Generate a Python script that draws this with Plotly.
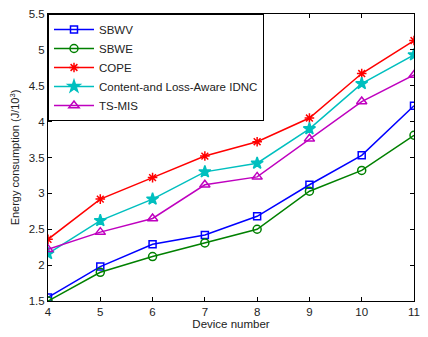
import plotly.graph_objects as go

devices = [4, 5, 6, 7, 8, 9, 10, 11]
sbwv = [1.55, 1.98, 2.29, 2.42, 2.68, 3.12, 3.53, 4.22]
sbwe = [1.50, 1.90, 2.12, 2.31, 2.50, 3.03, 3.32, 3.81]
cope = [2.36, 2.92, 3.22, 3.52, 3.72, 4.05, 4.67, 5.13]
idnc = [2.16, 2.62, 2.92, 3.30, 3.42, 3.90, 4.53, 4.93]
tsmis = [2.22, 2.46, 2.65, 3.12, 3.23, 3.76, 4.28, 4.65]

series = [
    ("SBWV", sbwv, "#0000ff", "square-open", 7),
    ("SBWE", sbwe, "#008000", "circle-open", 8),
    ("COPE", cope, "#ff0000", "asterisk-open", 8),
    ("Content-and Loss-Aware IDNC", idnc, "#00bfbf", "star", 9),
    ("TS-MIS", tsmis, "#bf00bf", "triangle-up-open", 9),
]

fig = go.Figure()
for name, vals, color, sym, size in series:
    fig.add_trace(go.Scatter(
        x=devices, y=vals, name=name, mode="lines+markers",
        line=dict(color=color, width=1.5),
        marker=dict(symbol=sym, size=size, color=color,
                    line=dict(color=color, width=1.5)),
    ))

axis_common = dict(
    showgrid=False, zeroline=False, showline=True, linecolor="black",
    linewidth=1, mirror="ticks", ticks="inside", ticklen=4,
    tickcolor="black", tickfont=dict(size=11.5, color="#222"),
)
fig.update_xaxes(range=[4, 11], dtick=1,
                 title=dict(text="Device number", font=dict(size=11.5, color="#222"), standoff=3),
                 **axis_common)
fig.update_yaxes(range=[1.5, 5.5], dtick=0.5,
                 title=dict(text="Energy consumption (J/10<sup>3</sup>)", font=dict(size=11, color="#222"), standoff=6),
                 **axis_common)

fig.update_layout(
    width=428, height=337,
    margin=dict(l=48, r=8, t=13, b=31),
    paper_bgcolor="white", plot_bgcolor="white",
    font=dict(family="Liberation Sans, Arial, sans-serif", size=11, color="#222"),
    legend=dict(x=0, y=1, xanchor="left", yanchor="top",
                bgcolor="white", bordercolor="black", borderwidth=1,
                font=dict(size=11.5), tracegroupgap=0, itemwidth=40),
)

fig.write_html("out.html")
